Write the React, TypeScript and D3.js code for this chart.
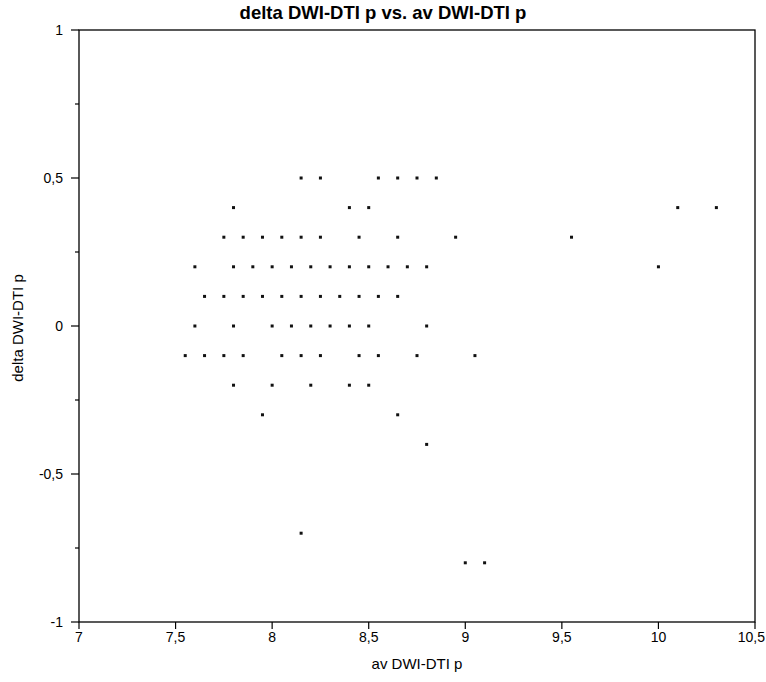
import React from "react";
import * as d3 from "d3";

const title = "delta DWI-DTI p vs. av DWI-DTI p";
const xLabel = "av DWI-DTI p";
const yLabel = "delta DWI-DTI p";

const xTicks = [7, 7.5, 8, 8.5, 9, 9.5, 10, 10.5];
const yTicks = [-1, -0.5, 0, 0.5, 1];
const yMinorTicks = [-0.75, -0.25, 0.25, 0.75];

// points: [av, delta]
const avValues = [
  8.15, 8.25, 8.55, 8.65, 8.75, 8.85,
  7.8, 8.4, 8.5, 10.1, 10.3,
  7.75, 7.85, 7.95, 8.05, 8.15, 8.25, 8.45, 8.65, 8.95, 9.55,
  7.6, 7.8, 7.9, 8.0, 8.1, 8.2, 8.3, 8.4, 8.5, 8.6, 8.7, 8.8, 10.0,
  7.65, 7.75, 7.85, 7.95, 8.05, 8.15, 8.25, 8.35, 8.45, 8.55, 8.65,
  7.6, 7.8, 8.0, 8.1, 8.2, 8.3, 8.4, 8.5, 8.8,
  7.55, 7.65, 7.75, 7.85, 8.05, 8.15, 8.25, 8.45, 8.55, 8.75, 9.05,
  7.8, 8.0, 8.2, 8.4, 8.5,
  7.95, 8.65,
  8.8,
  8.15,
  9.0, 9.1,
];
const deltaValues = [
  0.5, 0.5, 0.5, 0.5, 0.5, 0.5,
  0.4, 0.4, 0.4, 0.4, 0.4,
  0.3, 0.3, 0.3, 0.3, 0.3, 0.3, 0.3, 0.3, 0.3, 0.3,
  0.2, 0.2, 0.2, 0.2, 0.2, 0.2, 0.2, 0.2, 0.2, 0.2, 0.2, 0.2, 0.2,
  0.1, 0.1, 0.1, 0.1, 0.1, 0.1, 0.1, 0.1, 0.1, 0.1, 0.1,
  0, 0, 0, 0, 0, 0, 0, 0, 0,
  -0.1, -0.1, -0.1, -0.1, -0.1, -0.1, -0.1, -0.1, -0.1, -0.1, -0.1,
  -0.2, -0.2, -0.2, -0.2, -0.2,
  -0.3, -0.3,
  -0.4,
  -0.7,
  -0.8, -0.8,
];

const W = 766;
const H = 682;
const left = 79;
const right = 755;
const top = 30;
const bottom = 622;

const fmt = (v: number) => String(v).replace(".", ",");

export default function App() {
  const x = d3.scaleLinear().domain([7, 10.5]).range([left, right]);
  const y = d3.scaleLinear().domain([-1, 1]).range([bottom, top]);
  const font = "'Liberation Sans', Arial, sans-serif";
  const lastX = xTicks[xTicks.length - 1];
  return (
    <svg
      width={W}
      height={H}
      style={{ position: "absolute", left: 0, top: 0 }}
      fontFamily={font}
    >
      <rect x={0} y={0} width={W} height={H} fill="#fff" />
      <text x={383} y={19} textAnchor="middle" fontSize={18.5} fontWeight="bold" fill="#000">
        {title}
      </text>
      <rect
        x={left}
        y={top}
        width={right - left}
        height={bottom - top}
        fill="none"
        stroke="#000"
        strokeWidth={1.3}
      />
      {xTicks.map((t) => (
        <g key={"x" + t}>
          <line x1={x(t)} x2={x(t)} y1={bottom} y2={bottom + 7} stroke="#000" strokeWidth={1.2} />
          <text
            x={t === lastX ? W - 1 : x(t)}
            y={642}
            textAnchor={t === lastX ? "end" : "middle"}
            fontSize={14}
            fill="#000"
          >
            {fmt(t)}
          </text>
        </g>
      ))}
      {yTicks.map((t) => (
        <g key={"y" + t}>
          <line x1={left - 8} x2={left} y1={y(t)} y2={y(t)} stroke="#000" strokeWidth={1.2} />
          <text x={left - 16} y={y(t) + 5} textAnchor="end" fontSize={14} fill="#000">
            {fmt(t)}
          </text>
        </g>
      ))}
      {yMinorTicks.map((t) => (
        <line key={"m" + t} x1={left - 4} x2={left} y1={y(t)} y2={y(t)} stroke="#000" strokeWidth={1.2} />
      ))}
      <text x={417} y={669} textAnchor="middle" fontSize={15} fill="#000">
        {xLabel}
      </text>
      <text
        transform={`translate(23,328) rotate(-90)`}
        textAnchor="middle"
        fontSize={15}
        fill="#000"
      >
        {yLabel}
      </text>
      {avValues.map((a, i) => (
        <rect
          key={i}
          x={x(a) - 1.5}
          y={y(deltaValues[i]) - 1.5}
          width={3}
          height={3}
          fill="#111"
        />
      ))}
    </svg>
  );
}
